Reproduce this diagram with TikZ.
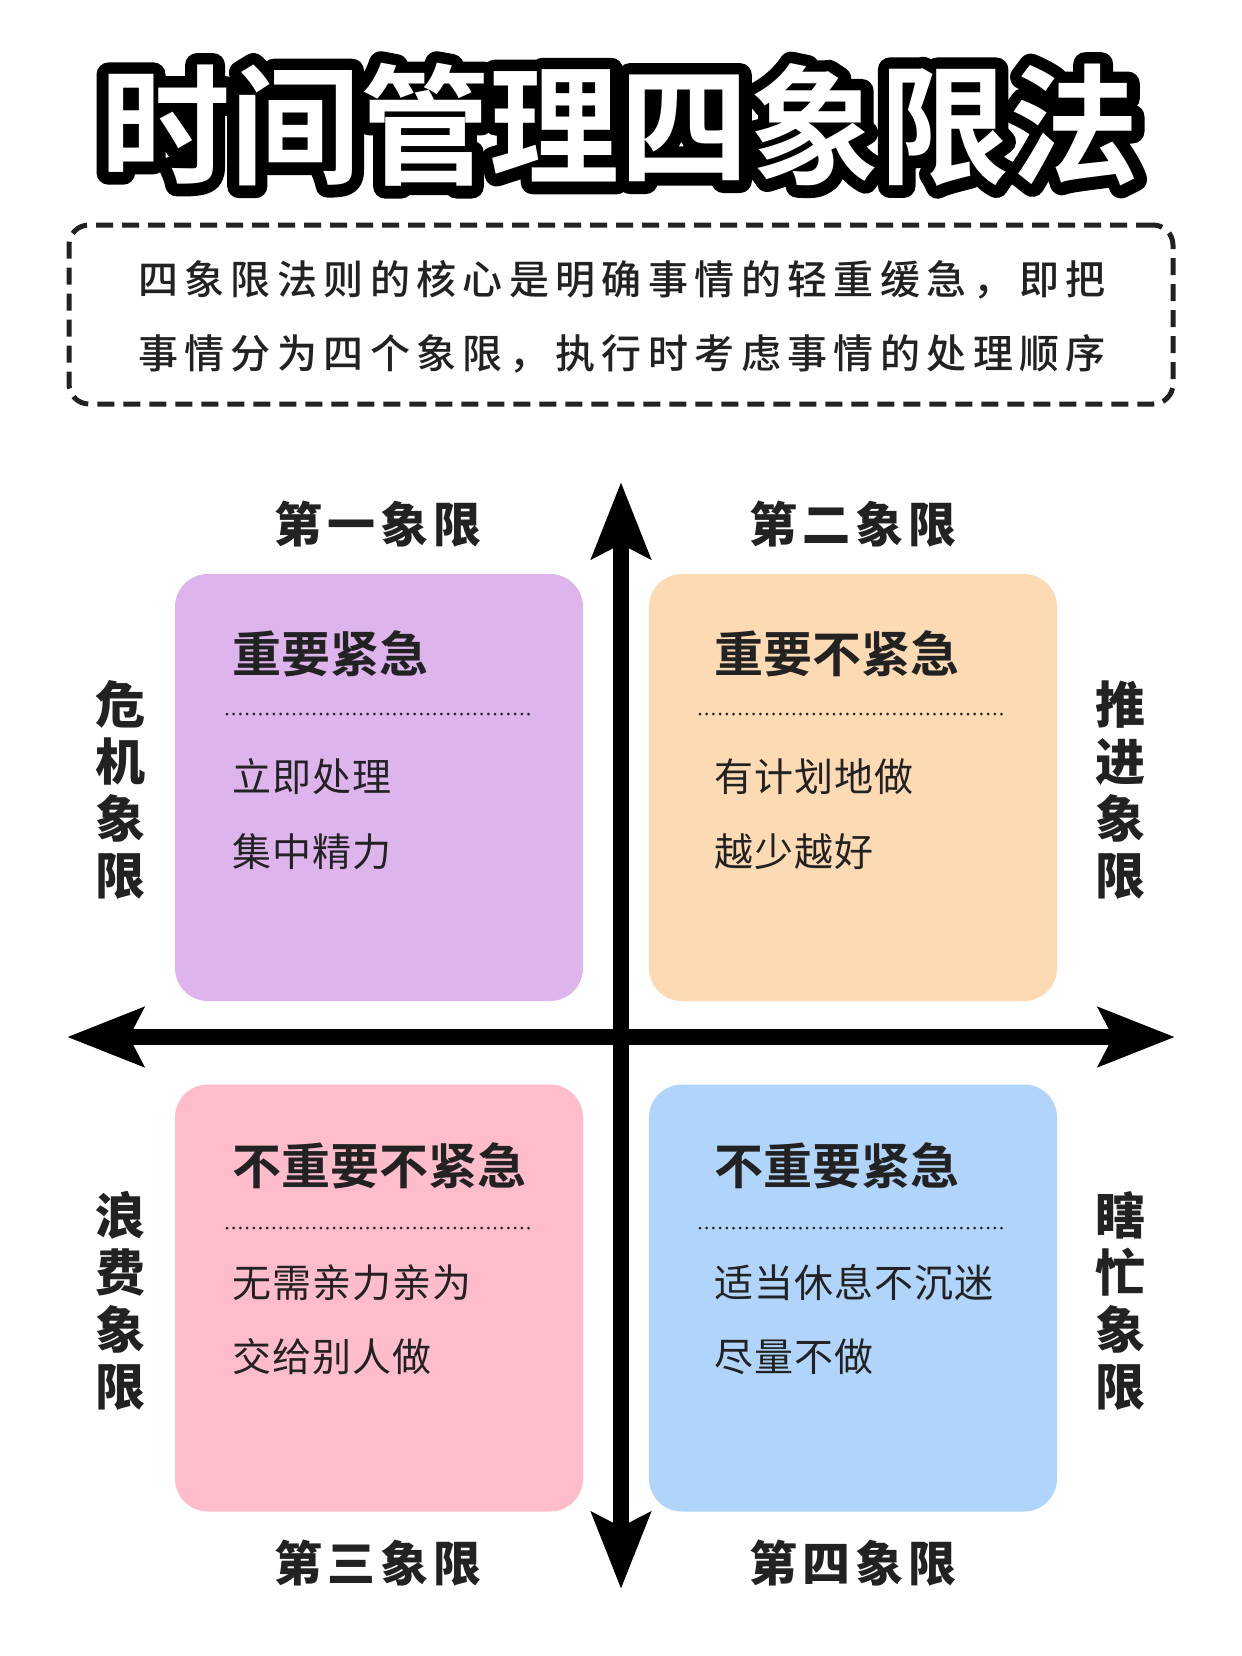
\documentclass[tikz,border=0pt]{standalone}
\usepackage{fontspec}
\setmainfont{Noto Sans CJK SC}
\newfontfamily\cjkdesc[LetterSpace=16]{Noto Sans CJK SC Medium}
\newfontfamily\cjkitem[LetterSpace=3]{Noto Sans CJK SC}
\newfontfamily\cjkbold{Noto Sans CJK SC Bold}
\newfontfamily\cjkblack{Noto Sans CJK SC Black}
\newfontfamily\cjktitleout[FakeBold=18.5]{Noto Sans CJK SC Bold}
\newfontfamily\cjkquad[LetterSpace=10]{Noto Sans CJK SC Black}
\usetikzlibrary{arrows.meta}
\definecolor{ink}{HTML}{222222}
\definecolor{qpurple}{HTML}{DDB4EB}
\definecolor{qorange}{HTML}{FCDAB3}
\definecolor{qpink}{HTML}{FFBCCB}
\definecolor{qblue}{HTML}{B1D4FB}
\newcommand\fsz[1]{\fontsize{#1}{#1}\selectfont}
\tikzset{
  every node/.style={inner sep=0pt, outer sep=0pt, text=ink},
  titleout/.style={font=\cjktitleout\fsz{65pt}, text=black},
  titlefill/.style={font=\cjkbold\fsz{65pt}, text=white},
  desctext/.style={font=\cjkdesc\fsz{20pt}},
  descbox/.style={draw=ink, line width=2.5pt, dash pattern=on 8.5pt off 4.5pt, rounded corners=10pt, minimum width=552pt, minimum height=89.5pt},
  qbox/.style={rounded corners=16.5pt, minimum width=204pt, minimum height=213.5pt},
  boxtitle/.style={font=\cjkbold\fsz{24.5pt}, anchor=west},
  itemtext/.style={font=\cjkitem\fsz{19.5pt}, anchor=west},
  qlabel/.style={font=\cjkquad\fsz{24pt}},
  sidelabel/.style={font=\cjkblack\fontsize{25pt}{28.5pt}\selectfont, align=center},
  dotline/.style={draw=ink, line width=1.5pt, line cap=round, dash pattern=on 0pt off 3.35pt},
  axis/.style={draw=black, line width=8pt, {Stealth[length=38pt, width=29pt, inset=7pt]}-{Stealth[length=38pt, width=29pt, inset=7pt]}}
}
\begin{document}
\begin{tikzpicture}[x=0.5pt, y=-0.5pt]
\path[use as bounding box, fill=white] (0,0) rectangle (1242,1656);

% title with outline
\begin{scope}[line join=round, line cap=round]
\node[titleout] (tout) at (620,125) {时间管理四象限法};
\end{scope}
\node[titlefill] (title) at (620,125) {时间管理四象限法};

% description
\node[descbox] (desc) at (621,314.5) {};
\node[desctext] (d1) at (622,280) {四象限法则的核心是明确事情的轻重缓急，即把};
\node[desctext] (d2) at (622,354) {事情分为四个象限，执行时考虑事情的处理顺序};

% quadrant boxes
\node[qbox, fill=qpurple] (q1) at (379,787.5) {};
\node[qbox, fill=qorange] (q2) at (853,787.5) {};
\node[qbox, fill=qpink] (q3) at (379,1298) {};
\node[qbox, fill=qblue] (q4) at (853,1298) {};

% axes
\coordinate (ytop) at (621,482);
\coordinate (ybot) at (621,1589);
\coordinate (xleft) at (67,1037);
\coordinate (xright) at (1175,1037);
\draw[axis] (xleft) -- (xright);
\draw[axis] (ybot) -- (ytop);

% box contents
\node[boxtitle] (t1) at (232,654) {重要紧急};
\coordinate (l1a) at (227,714); \coordinate (l1b) at (530,714);
\draw[dotline] (l1a) -- (l1b);
\node[itemtext] (i1a) at (232,777) {立即处理};
\node[itemtext] (i1b) at (232,852) {集中精力};

\node[boxtitle] (t2) at (714,654) {重要不紧急};
\coordinate (l2a) at (700,714); \coordinate (l2b) at (1003,714);
\draw[dotline] (l2a) -- (l2b);
\node[itemtext] (i2a) at (714,777) {有计划地做};
\node[itemtext] (i2b) at (714,852) {越少越好};

\node[boxtitle] (t3) at (232,1166) {不重要不紧急};
\coordinate (l3a) at (227,1228); \coordinate (l3b) at (530,1228);
\draw[dotline] (l3a) -- (l3b);
\node[itemtext] (i3a) at (232,1283) {无需亲力亲为};
\node[itemtext] (i3b) at (232,1357) {交给别人做};

\node[boxtitle] (t4) at (714,1166) {不重要紧急};
\coordinate (l4a) at (700,1228); \coordinate (l4b) at (1003,1228);
\draw[dotline] (l4a) -- (l4b);
\node[itemtext] (i4a) at (714,1283) {适当休息不沉迷};
\node[itemtext] (i4b) at (714,1357) {尽量不做};

% quadrant labels
\node[qlabel] (ql1) at (378,524) {第一象限};
\node[qlabel] (ql2) at (853,524) {第二象限};
\node[qlabel] (ql3) at (378,1563) {第三象限};
\node[qlabel] (ql4) at (853,1563) {第四象限};

% side labels
\node[sidelabel] (s1) at (120,790) {危\\机\\象\\限};
\node[sidelabel] (s2) at (1120,790) {推\\进\\象\\限};
\node[sidelabel] (s3) at (120,1301) {浪\\费\\象\\限};
\node[sidelabel] (s4) at (1120,1301) {瞎\\忙\\象\\限};
\end{tikzpicture}
\end{document}
